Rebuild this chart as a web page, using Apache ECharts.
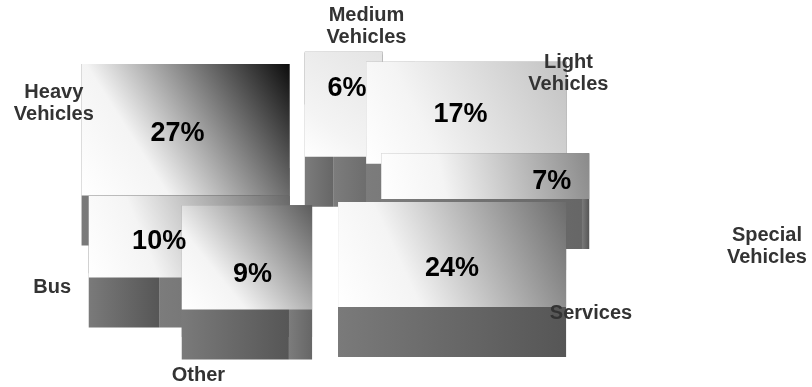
<!DOCTYPE html>
<html>
<head>
<meta charset="utf-8">
<script src="https://cdn.jsdelivr.net/npm/echarts@6/dist/echarts.min.js"></script>
<style>
  html, body { margin: 0; padding: 0; background: #fff; }
  #main { width: 812px; height: 387px; }
</style>
</head>
<body>
<div id="main"></div>
<script>
// slices, clockwise from the top
const categories = ['Medium\nVehicles', 'Light\nVehicles', 'Special\nVehicles', 'Services', 'Other', 'Bus', 'Heavy\nVehicles'];
const shares = [6, 17, 7, 24, 9, 10, 27];

// look of each slice (dark end of the top gradient) and label nudges
const topShade = ['#e4e4e4', '#c2c2c2', '#8a8a8a', '#6c6c6c', '#5c5c5c', '#686868', '#0c0c0c'];
const nameNudge = [[19, 9], [7, 10], [106, 72], [62, -1], [-6, 41], [-3, 15], [-2, 12]];
const pctNudge = [[6, 4], [-10, 2], [21, 1], [1, 3], [-2, -3], [-5, 1], [13, 4]];

const startAngle = -8;
const total = shares.reduce((a, b) => a + b, 0);
const spans = [];
let acc = startAngle;
shares.forEach(v => {
  const a0 = acc;
  acc += v / total * 360;
  spans.push([a0, acc]);
});

const rad = d => d * Math.PI / 180;

function box(pts, extra) {
  const xs = pts.map(p => p[0]), ys = pts.map(p => p[1]);
  const x0 = Math.min(...xs), x1 = Math.max(...xs);
  const y0 = Math.min(...ys), y1 = Math.max(...ys) + (extra || 0);
  return { x: x0, y: y0, width: x1 - x0, height: y1 - y0 };
}

function renderSlice(params, api) {
  const i = params.dataIndex;
  const W = api.getWidth(), H = api.getHeight();
  const cx = W * 0.408, cy = H * 0.47;
  const rx = 208, ry = 105, depth = 50, explode = 50;
  const a0 = spans[i][0], a1 = spans[i][1], mid = (a0 + a1) / 2;
  const ax = cx + explode * Math.sin(rad(mid));
  const ay = cy - explode * ry / rx * Math.cos(rad(mid));
  const pt = t => [ax + rx * Math.sin(rad(t)), ay - ry * Math.cos(rad(t))];
  const p0 = pt(a0), p1 = pt(a1);
  const arc = [p0, p1];
  for (let k = Math.ceil(a0 / 90) * 90; k < a1; k += 90) arc.push(pt(k));

  // back slices first, front slices last
  const rank = Math.round((1 - Math.cos(rad(mid))) * 100) * 5;
  // the radial wall whose rim end sits lower is the nearer one
  const front0 = p0[1] > p1[1];
  const wallFill = new echarts.graphic.LinearGradient(0, 0, 1, 0, [
    { offset: 0, color: '#7c7c7c' }, { offset: 1, color: '#666666' }
  ]);
  const outerFill = new echarts.graphic.LinearGradient(0, 0, 1, 0, [
    { offset: 0, color: '#7a7a7a' }, { offset: 1, color: '#565656' }
  ]);
  const topFill = new echarts.graphic.LinearGradient(0, 1, 1, 0, [
    { offset: 0, color: '#ffffff' },
    { offset: 0.3, color: '#f4f4f4' },
    { offset: 1, color: topShade[i] }
  ]);

  const k = 0.72;
  const px = ax + k * rx * Math.sin(rad(mid)) + pctNudge[i][0];
  const py = ay - k * ry * Math.cos(rad(mid)) + 3 + pctNudge[i][1];
  const nx = cx + 330 * Math.sin(rad(mid)) + nameNudge[i][0];
  const ny = cy - 165 * Math.cos(rad(mid)) + nameNudge[i][1];

  return {
    type: 'group',
    children: [
      { type: 'rect', z2: rank + (front0 ? 1 : 0), shape: box([[ax, ay], p0], depth), style: { fill: wallFill } },
      { type: 'rect', z2: rank + (front0 ? 0 : 1), shape: box([[ax, ay], p1], depth), style: { fill: wallFill } },
      { type: 'rect', z2: rank + 2, shape: box(arc, depth), style: { fill: outerFill } },
      { type: 'rect', z2: rank + 3, shape: box([[ax, ay]].concat(arc)), style: { fill: topFill } },
      {
        type: 'text', z2: 2000, x: px, y: py,
        style: {
          text: api.value(0) + '%', fill: '#000',
          font: 'bold 27px "Liberation Sans", Arial, sans-serif',
          align: 'center', verticalAlign: 'middle'
        }
      },
      {
        type: 'text', z2: 2000, x: nx, y: ny,
        style: {
          text: categories[i], fill: '#333', lineHeight: 22,
          font: 'bold 20px "Liberation Sans", Arial, sans-serif',
          align: 'center', verticalAlign: 'middle'
        }
      }
    ]
  };
}

const chart = echarts.init(document.getElementById('main'));
chart.setOption({
  animation: false,
  backgroundColor: '#fff',
  series: [{
    type: 'custom',
    coordinateSystem: 'none',
    renderItem: renderSlice,
    data: shares.map((v, i) => ({ name: categories[i], value: [v] }))
  }]
});
</script>
</body>
</html>
